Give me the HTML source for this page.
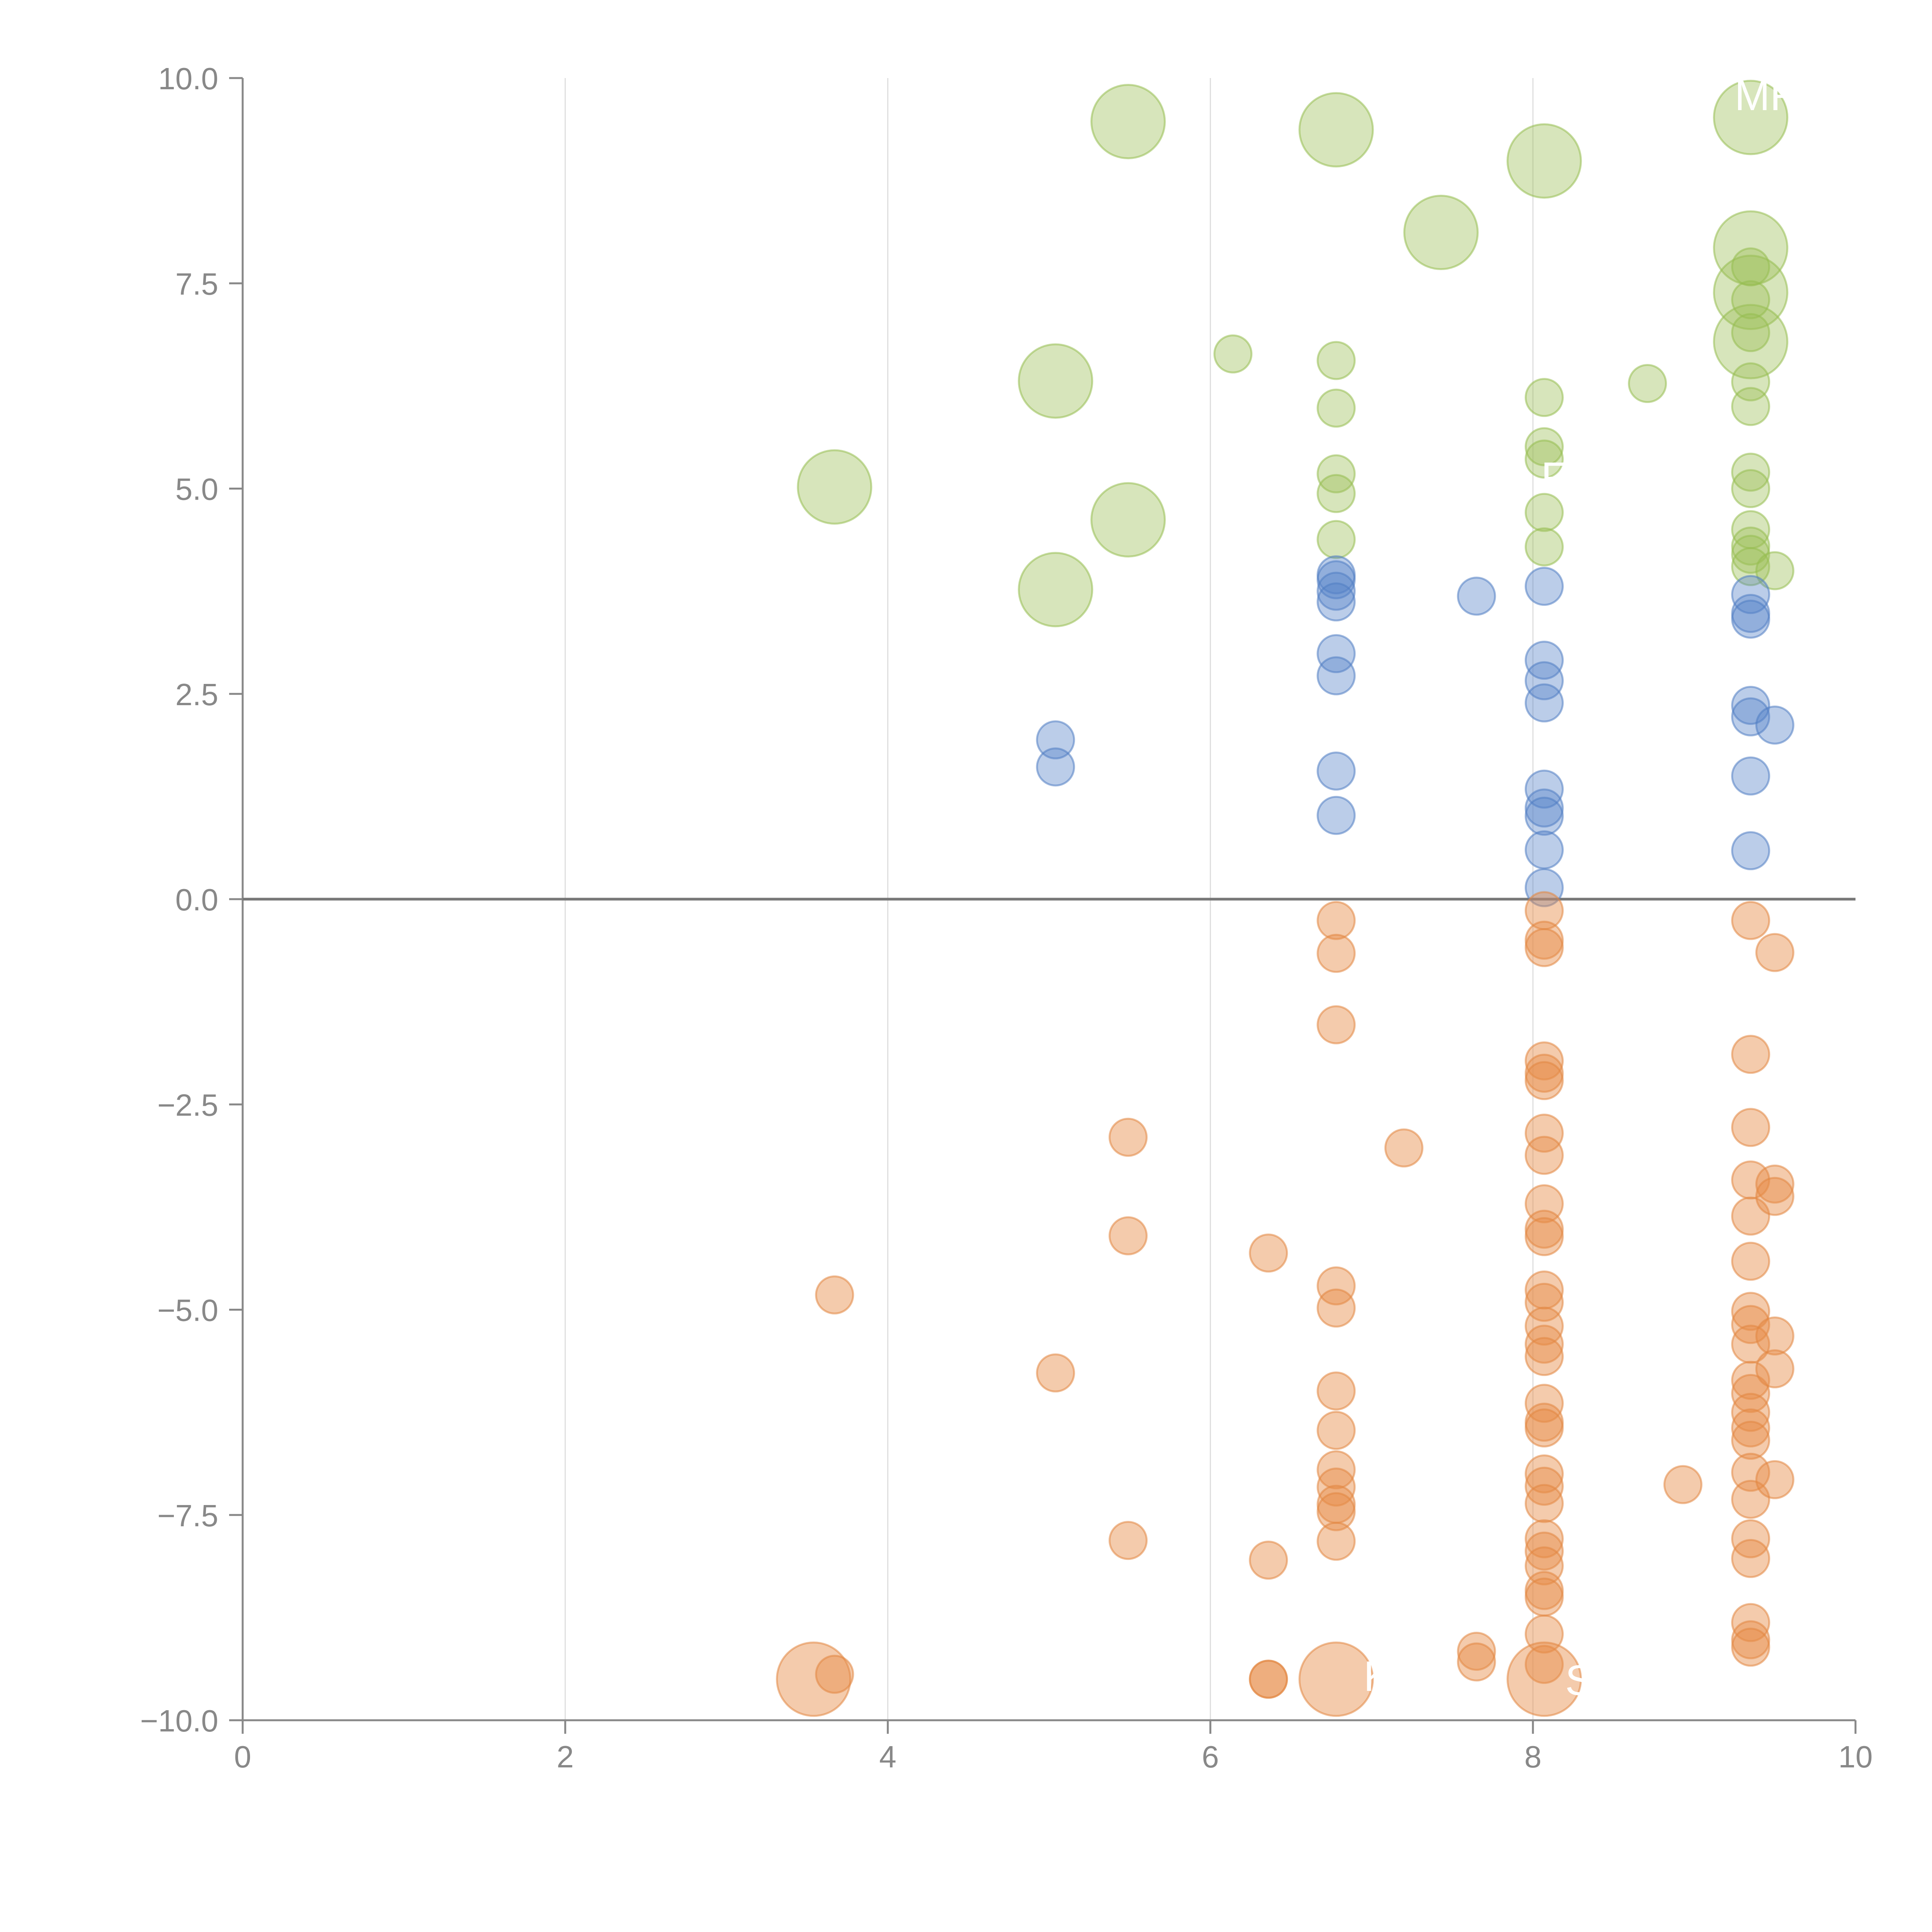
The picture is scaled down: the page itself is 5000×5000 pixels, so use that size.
<!DOCTYPE html>
<html><head><meta charset="utf-8"><style>
html,body{margin:0;padding:0;background:#fff;overflow:hidden;width:5000px;height:5000px;}
svg{display:block;}
svg text{font-family:"Liberation Sans",Arial,sans-serif;}
</style></head><body>
<svg id="chart" width="5000" height="5000" viewBox="0 0 5000 5000" xmlns="http://www.w3.org/2000/svg">
<g id="grid"></g>
<g id="axes"></g>
<g id="marks"></g>
<g id="labels"></g>
</svg>
<script>
const xTicks=[0,2,4,6,8,10];
const yTicks=[-10,-7.5,-5,-2.5,0,2.5,5,7.5,10];
const yTickLabels=["\u221210.0","\u22127.5","\u22125.0","\u22122.5","0.0","2.5","5.0","7.5","10.0"];
const greenX=[5.49,6.78,8.07,7.43,9.35,9.35,9.35,9.35,5.04,3.67,5.49,5.04,6.14,6.78,6.78,6.78,6.78,6.78,8.07,8.07,8.07,8.07,8.07,8.71,9.35,9.35,9.35,9.35,9.35,9.35,9.35,9.35,9.35,9.35,9.35,9.5];
const greenY=[9.47,9.37,8.99,8.12,9.52,7.93,7.39,6.79,6.31,5.02,4.62,3.77,6.64,6.56,5.98,5.18,4.94,4.38,6.11,5.51,5.36,4.71,4.29,6.28,7.7,7.3,6.9,6.3,6.0,5.2,5.0,4.5,4.3,4.2,4.05,4.0];
const greenS=[2,2,2,2,2,2,2,2,2,2,2,2,1,1,1,1,1,1,1,1,1,1,1,1,1,1,1,1,1,1,1,1,1,1,1,1];
const blueX=[6.78,6.78,6.78,6.78,6.78,6.78,6.78,6.78,5.04,5.04,7.65,8.07,8.07,8.07,8.07,8.07,8.07,8.07,8.07,8.07,9.35,9.35,9.35,9.35,9.35,9.35,9.35,9.5];
const blueY=[3.95,3.89,3.75,3.62,2.99,2.72,1.56,1.02,1.94,1.61,3.69,3.81,2.91,2.66,2.39,1.34,1.11,1.01,0.6,0.14,3.71,3.48,3.41,2.36,2.22,1.5,0.59,2.12];
const orangeX=[6.78,6.78,6.78,6.78,6.78,6.78,6.78,6.78,6.78,6.78,6.78,6.78,6.78,
8.07,8.07,8.07,8.07,8.07,8.07,8.07,8.07,8.07,8.07,8.07,8.07,8.07,8.07,8.07,8.07,8.07,8.07,8.07,8.07,8.07,8.07,8.07,8.07,8.07,8.07,8.07,8.07,8.07,8.07,
3.54,3.67,3.67,5.04,5.49,5.49,5.49,6.36,6.36,6.36,6.36,7.2,7.65,7.65,8.93,
9.35,9.35,9.35,9.35,9.35,9.35,9.35,9.35,9.35,9.35,9.35,9.35,9.35,9.35,9.35,9.35,9.35,9.35,9.35,9.35,9.35,
9.5,9.5,9.5,9.5,9.5,9.5];
const orangeY=[-0.26,-0.66,-1.53,-4.71,-4.98,-5.99,-6.47,-6.95,-7.16,-7.37,-7.46,-7.82,-9.5,
-0.14,-0.5,-0.59,-1.97,-2.12,-2.21,-2.85,-3.12,-3.71,-4.02,-4.11,-4.76,-4.91,-5.2,-5.42,-5.57,-6.14,-6.37,-6.44,-7.0,-7.15,-7.36,-7.79,-7.94,-8.12,-8.42,-8.5,-8.95,-9.32,-9.5,
-9.5,-4.82,-9.44,-5.77,-2.9,-4.1,-7.81,-4.31,-8.05,-9.5,-9.5,-3.03,-9.16,-9.29,-7.13,
-0.26,-1.89,-2.78,-3.42,-3.86,-4.41,-5.02,-5.18,-5.42,-5.86,-6.02,-6.25,-6.44,-6.59,-6.98,-7.31,-7.79,-8.03,-8.81,-9.02,-9.11,
-0.65,-3.47,-3.62,-5.32,-5.72,-7.07];
const orangeS=[1,1,1,1,1,1,1,1,1,1,1,1,2,
1,1,1,1,1,1,1,1,1,1,1,1,1,1,1,1,1,1,1,1,1,1,1,1,1,1,1,1,1,2,
2,1,1,1,1,1,1,1,1,1,1,1,1,1,1,
1,1,1,1,1,1,1,1,1,1,1,1,1,1,1,1,1,1,1,1,1,
1,1,1,1,1,1];

const NS="http://www.w3.org/2000/svg";
const X0=628,X1=4802,Y0=4452,Y1=202;
const xs=v=>X0+(v-0)/(10-0)*(X1-X0);
const ys=v=>Y0-(v+10)/20*(Y0-Y1);
const rs=s=>s===2?95:48;
function mk(tag,attrs,parent){const e=document.createElementNS(NS,tag);for(const k in attrs)e.setAttribute(k,attrs[k]);parent.appendChild(e);return e;}
const grid=document.getElementById('grid'),axes=document.getElementById('axes'),marks=document.getElementById('marks'),labels=document.getElementById('labels');

xTicks.forEach(t=>{
  if(t>0&&t<10){const g=mk('line',{x1:xs(t),x2:xs(t),y1:Y1,y2:Y0,stroke:'#dedede','stroke-width':3},grid);
    
    }
  const tk=mk('line',{x1:xs(t),x2:xs(t),y1:Y0,y2:Y0+35,stroke:'#888','stroke-width':5},axes);
  
  
  const tx=mk('text',{x:xs(t),y:Y0+122,'text-anchor':'middle','font-size':80,fill:'#888'},axes);
  tx.textContent=String(t);
  
  
});
yTicks.forEach((t,i)=>{
  const tk=mk('line',{x1:X0-35,x2:X0,y1:ys(t),y2:ys(t),stroke:'#888','stroke-width':5},axes);
  
  
  const tx=mk('text',{x:X0-63,y:ys(t)+29,'text-anchor':'end','font-size':80,fill:'#888'},axes);
  tx.textContent=yTickLabels[i];
  
  
});
const ya=mk('line',{x1:X0,x2:X0,y1:Y1,y2:Y0,stroke:'#888','stroke-width':5},axes);


const xa=mk('line',{x1:X0,x2:X1,y1:Y0,y2:Y0,stroke:'#888','stroke-width':5},axes);


const zl=mk('line',{x1:X0,x2:X1,y1:ys(0),y2:ys(0),stroke:'#777','stroke-width':7},axes);



function drawSeries(X,Y,S,fill,stroke,name){
  X.forEach((x,i)=>{
    const c=mk('circle',{cx:xs(x),cy:ys(Y[i]),r:rs(S?S[i]:1),fill:fill,stroke:stroke,'stroke-width':5},marks);
    
    
  });
}
drawSeries(greenX,greenY,greenS,'rgba(155,190,85,0.4)','rgba(150,190,80,0.55)','bubble-green');
drawSeries(blueX,blueY,null,'rgba(85,130,200,0.4)','rgba(80,125,195,0.55)','bubble-blue');
drawSeries(orangeX,orangeY,orangeS,'rgba(230,140,70,0.45)','rgba(225,135,65,0.55)','bubble-orange');

[["K",6.95,-9.5],["S",8.2,-9.55],["MR",9.25,9.75],["F",8.05,5.1]].forEach(l=>{
  const t=mk('text',{x:xs(l[1]),y:ys(l[2])+30,'font-size':110,fill:'#fff'},labels);
  t.textContent=l[0];
  
  
});
</script>
</body></html>
